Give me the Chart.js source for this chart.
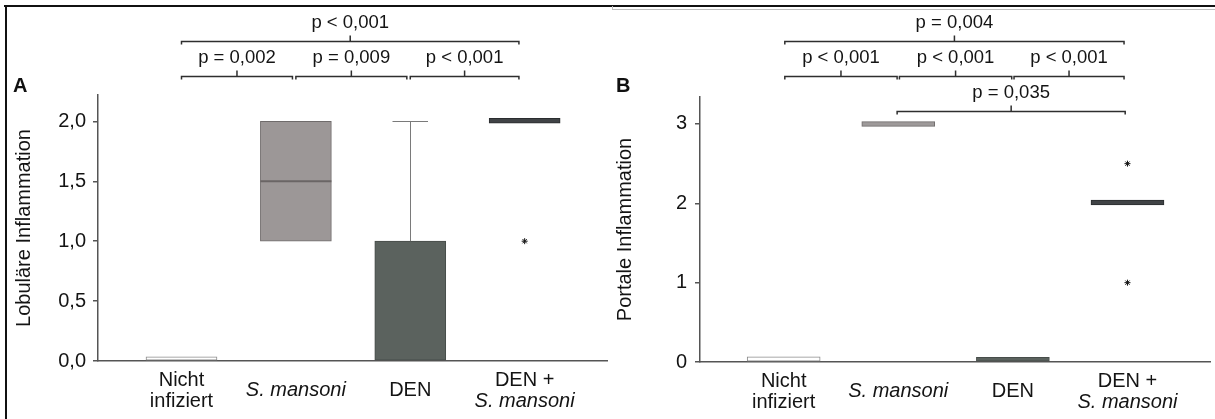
<!DOCTYPE html>
<html>
<head>
<meta charset="utf-8">
<script src="https://cdn.jsdelivr.net/npm/chart.js@4.4.0/dist/chart.umd.min.js"></script>
<style>
html,body{margin:0;padding:0;background:#fff;}
body{width:1215px;height:419px;position:relative;overflow:hidden;font-family:"Liberation Sans",Arial,sans-serif;}
canvas{position:absolute;top:0;}
#ca{left:0;}
#cb{left:612px;}
.ft{position:absolute;left:4px;top:5px;width:1211px;height:2px;background:#111;}
.fl{position:absolute;left:5px;top:5px;width:2px;height:414px;background:#111;}
.fg{position:absolute;left:612px;top:9px;width:603px;height:1px;background:#bdbdbd;}
.fgv{position:absolute;left:612px;top:6px;width:1px;height:4px;background:#bdbdbd;}
.pl{position:absolute;top:75px;font-weight:bold;font-size:20px;line-height:20px;color:#111;}
</style>
</head>
<body>
<canvas id="ca" width="612" height="419"></canvas>
<canvas id="cb" width="603" height="419"></canvas>
<div class="ft"></div><div class="fl"></div><div class="fg"></div><div class="fgv"></div>
<div class="pl" style="left:13px">A</div>
<div class="pl" style="left:616px">B</div>
<script>
// ---------- data ----------
const categories = [["Nicht","infiziert"],["S. mansoni"],["DEN"],["DEN +","S. mansoni"]];
const italicLines = ["S. mansoni"];
const catPositions = [1, 2, 3, 4];

// Panel A: Lobuläre Inflammation
const yTitleA = "Lobuläre Inflammation";
const yTicksA = [0, 0.5, 1, 1.5, 2];
const yTickLabelsA = ["0,0", "0,5", "1,0", "1,5", "2,0"];
const yMaxA = 2.22;
const boxLowA  = [0, 1, 0, 1.985];
const boxHighA = [0.035, 2, 1, 2.025];
const medianA = [null, 1.5, null, null];
const whiskerLowA = [null, null, 1, null];
const whiskerHighA = [null, null, 2, null];
const outlierCatA = [4];
const outlierValA = [1];
const bracketFromA = [1.0, 1.0, 2.0, 3.0];
const bracketToA   = [3.95, 1.97, 2.97, 3.95];
const bracketLevelA = [0, 1, 1, 1];
const bracketLabelA = ["p < 0,001", "p = 0,002", "p = 0,009", "p < 0,001"];

// Panel B: Portale Inflammation
const yTitleB = "Portale Inflammation";
const yTicksB = [0, 1, 2, 3];
const yTickLabelsB = ["0", "1", "2", "3"];
const yMaxB = 3.34;
const boxLowB  = [0, 2.97, 0, 1.98];
const boxHighB = [0.065, 3.03, 0.06, 2.04];
const medianB = [null, null, null, null];
const whiskerLowB = [null, null, null, null];
const whiskerHighB = [null, null, null, null];
const outlierCatB = [4, 4];
const outlierValB = [2.5, 1];
const bracketFromB = [1.01, 1.01, 2.01, 3.01, 1.99];
const bracketToB   = [3.97, 1.99, 2.99, 3.97, 3.98];
const bracketLevelB = [0, 1, 1, 1, 2];
const bracketLabelB = ["p = 0,004", "p < 0,001", "p < 0,001", "p < 0,001", "p = 0,035"];

// ---------- styles ----------
const FONT = '"Liberation Sans", Arial, sans-serif';
const AXIS = '#555555';
const TEXT = '#141414';
const fillsA = ['#ffffff', '#9c9797', '#5b625e', '#404346'];
const bordersA = ['#8a8a8a', '#6f6b6b', '#474d4a', '#2a2d2f'];
const fillsB = ['#ffffff', '#9e9a9a', '#5b625e', '#404346'];
const bordersB = ['#8a8a8a', '#6f6b6b', '#474d4a', '#2a2d2f'];
const levelLineY = [41, 76, 111];

function makePanel(id, p) {
  const extras = {
    id: 'extras_' + id,
    afterDatasetsDraw(chart) {
      const xs = chart.scales.x, ys = chart.scales.y, c = chart.ctx;
      c.save();
      catPositions.forEach((cx, i) => {
        const px = xs.getPixelForValue(cx);
        if (p.whiskerLow[i] != null) {
          const y1 = ys.getPixelForValue(p.whiskerLow[i]);
          const y2 = ys.getPixelForValue(p.whiskerHigh[i]);
          c.strokeStyle = '#7a7a7a'; c.lineWidth = 1;
          c.beginPath(); c.moveTo(Math.round(px) + 0.5, y1); c.lineTo(Math.round(px) + 0.5, y2); c.stroke();
          c.beginPath(); c.moveTo(px - p.barW / 4, Math.round(y2) + 0.5); c.lineTo(px + p.barW / 4, Math.round(y2) + 0.5); c.stroke();
        }
        if (p.median[i] != null) {
          const py = ys.getPixelForValue(p.median[i]);
          c.strokeStyle = '#6a6565'; c.lineWidth = 2;
          c.beginPath(); c.moveTo(px - p.barW / 2, py); c.lineTo(px + p.barW / 2, py); c.stroke();
        }
      });
      c.restore();
    },
    afterDraw(chart) {
      const xs = chart.scales.x, c = chart.ctx, area = chart.chartArea;
      c.save();
      // category labels
      c.fillStyle = TEXT;
      c.textAlign = 'center';
      c.textBaseline = 'middle';
      categories.forEach((lines, i) => {
        const px = xs.getPixelForValue(catPositions[i]);
        const mid = area.bottom + 29.5;
        lines.forEach((t, j) => {
          const it = italicLines.includes(t);
          c.font = (it ? 'italic ' : '') + '20px ' + FONT;
          c.fillText(t, px, mid + (j - (lines.length - 1) / 2) * 21);
        });
      });
      // significance brackets
      c.strokeStyle = '#2e2e2e';
      c.lineWidth = 1.5;
      c.fillStyle = TEXT;
      c.font = '18.5px ' + FONT;
      p.bFrom.forEach((f, k) => {
        const x1 = xs.getPixelForValue(f), x2 = xs.getPixelForValue(p.bTo[k]);
        const yl = levelLineY[p.bLevel[k]] + 0.5;
        const xm = (x1 + x2) / 2;
        c.beginPath();
        c.moveTo(x1, yl + 3); c.lineTo(x1, yl); c.lineTo(x2, yl); c.lineTo(x2, yl + 3);
        c.moveTo(xm, yl); c.lineTo(xm, yl - 6);
        c.stroke();
        c.fillText(p.bLabel[k], xm, yl - 19);
      });
      c.restore();
    }
  };

  new Chart(document.getElementById(id), {
    type: 'bar',
    data: {
      datasets: [
        {
          type: 'bar',
          data: catPositions.map((x, i) => ({x: x, y: [p.low[i], p.high[i]]})),
          backgroundColor: p.fills,
          borderColor: p.borders,
          borderWidth: 1,
          borderSkipped: false,
          barThickness: p.barW,
          order: 2
        },
        {
          type: 'scatter',
          data: p.oCat.map((x, i) => ({x: x, y: p.oVal[i]})),
          pointStyle: 'star',
          radius: 3,
          borderColor: '#111111',
          backgroundColor: '#111111',
          borderWidth: 1,
          order: 1
        }
      ]
    },
    options: {
      responsive: false,
      animation: false,
      events: [],
      layout: {padding: {top: p.top, right: p.right, bottom: 0, left: 0}},
      plugins: {legend: {display: false}, tooltip: {enabled: false}},
      scales: {
        x: {
          type: 'linear',
          min: 0.27, max: 4.72,
          offset: false,
          grid: {display: false},
          ticks: {display: false},
          border: {display: true, color: AXIS, width: 1.5},
          afterFit(s) { s.height = p.xH; }
        },
        y: {
          type: 'linear',
          min: 0, max: p.yMax,
          grid: {display: true, drawOnChartArea: false, drawTicks: true, tickLength: 5, color: AXIS, lineWidth: 1.5},
          border: {display: true, color: AXIS, width: 1.5},
          afterBuildTicks(s) { s.ticks = p.yTicks.map(v => ({value: v})); },
          ticks: {
            padding: p.tickPad,
            color: TEXT,
            font: {family: FONT, size: 20},
            callback: (v, i) => p.yTickLabels[i]
          },
          title: {
            display: true,
            text: p.title,
            color: TEXT,
            font: {family: FONT, size: 20},
            padding: {top: p.titlePad, bottom: 0}
          },
          afterFit(s) { s.width = p.yW; }
        }
      }
    },
    plugins: [extras]
  });
}

makePanel('ca', {
  low: boxLowA, high: boxHighA, median: medianA, whiskerLow: whiskerLowA, whiskerHigh: whiskerHighA,
  oCat: outlierCatA, oVal: outlierValA, fills: fillsA, borders: bordersA,
  bFrom: bracketFromA, bTo: bracketToA, bLevel: bracketLevelA, bLabel: bracketLabelA,
  yTicks: yTicksA, yTickLabels: yTickLabelsA, yMax: yMaxA, title: yTitleA,
  barW: 71, top: 95, right: 1, xH: 58, yW: 98, tickPad: 7, titlePad: 12
});
makePanel('cb', {
  low: boxLowB, high: boxHighB, median: medianB, whiskerLow: whiskerLowB, whiskerHigh: whiskerHighB,
  oCat: outlierCatB, oVal: outlierValB, fills: fillsB, borders: bordersB,
  bFrom: bracketFromB, bTo: bracketToB, bLevel: bracketLevelB, bLabel: bracketLabelB,
  yTicks: yTicksB, yTickLabels: yTickLabelsB, yMax: yMaxB, title: yTitleB,
  barW: 73, top: 97, right: 2, xH: 57, yW: 88, tickPad: 8, titlePad: 1
});
</script>
</body>
</html>
